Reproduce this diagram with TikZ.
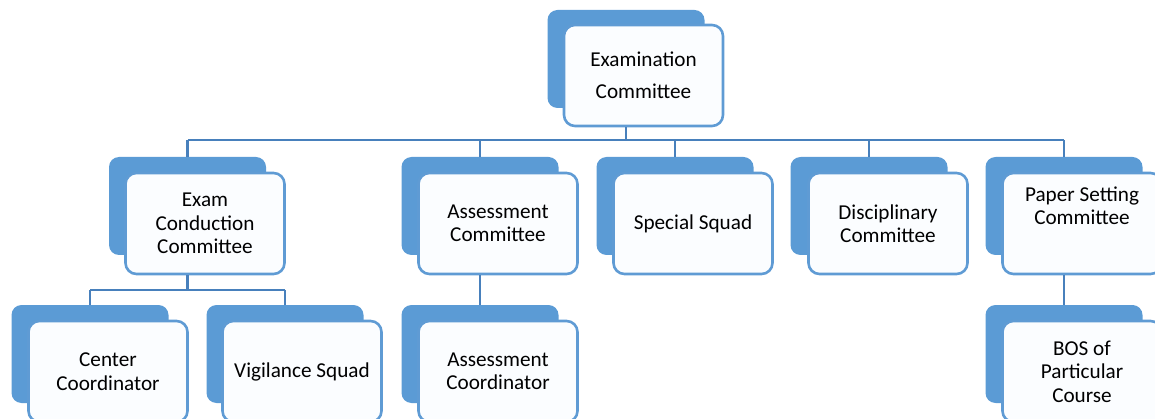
\documentclass[tikz,border=0pt]{standalone}
\usepackage{fontspec}
\setmainfont{Carlito}
\definecolor{shadeblue}{RGB}{91,155,213}
\definecolor{edgeblue}{RGB}{95,155,212}
\definecolor{linkblue}{RGB}{72,128,188}
\definecolor{paleblue}{RGB}{251,253,255}

\begin{document}
\begin{tikzpicture}[x=1pt,y=-1pt,
    backbox/.style={draw=none, fill=shadeblue, rounded corners=10pt,
        minimum width=157pt, minimum height=98pt, inner sep=0pt},
    frontbox/.style={draw=edgeblue, line width=2.6pt, fill=paleblue, rounded corners=11pt,
        minimum width=159pt, minimum height=101pt, inner sep=0pt, align=center,
        font=\fontsize{21.2}{23.5}\selectfont},
    link/.style={draw=linkblue, line width=2.8pt}]

        \useasboundingbox (0,0) rectangle (1155,419);

        % Top box
        \node[backbox] (exam-b) at (626,59) {};
        \node[frontbox, font=\fontsize{21.2}{32}\selectfont] (exam) at (643.5,75.5) {Examination\\Committee};

        % Second row
        \node[backbox] (conduct-b) at (187.5,206) {};
        \node[frontbox] (conduct) at (205,223.5) {Exam\\Conduction\\Committee};
        \node[backbox] (assess-b) at (480,206) {};
        \node[frontbox] (assess) at (498,223.5) {Assessment\\Committee};
        \node[backbox] (special-b) at (675,206) {};
        \node[frontbox] (special) at (693,223.5) {Special Squad};
        \node[backbox] (discip-b) at (869,206) {};
        \node[frontbox] (discip) at (888,223.5) {Disciplinary\\Committee};
        \node[backbox] (paper-b) at (1064,206) {};
        \node[frontbox] (paper) at (1082,223.5) {Paper Setting\\Committee\\[12pt]{}};

        % Third row
        \node[backbox] (center-b) at (90,354) {};
        \node[frontbox] (center) at (108,371.5) {Center\\Coordinator};
        \node[backbox] (vigil-b) at (285,354) {};
        \node[frontbox] (vigil) at (302,371.5) {Vigilance Squad};
        \node[backbox] (coord-b) at (480,354) {};
        \node[frontbox] (coord) at (498,371.5) {Assessment\\Coordinator};
        \node[backbox] (bos-b) at (1064,354) {};
        \node[frontbox] (bos) at (1082,371.5) {BOS of\\Particular\\Course};

        % Connectors from the top box
        \coordinate (bus) at (0,140);
        \draw[link] (exam-b.south |- exam.south) -- (exam-b |- bus);
        \draw[link] (conduct-b |- bus) -- (paper-b |- bus);
        \foreach \n in {conduct,assess,special,discip,paper}
            \draw[link] (\n-b |- bus) -- (\n-b.north);

        % Connectors below the second row
        \coordinate (subbus) at (0,290);
        \draw[link] (conduct-b.south |- conduct.south) -- (conduct-b |- subbus);
        \draw[link] (center-b |- subbus) -- (vigil-b |- subbus);
        \draw[link] (center-b |- subbus) -- (center-b.north);
        \draw[link] (vigil-b |- subbus) -- (vigil-b.north);
        \draw[link] (assess-b.south |- assess.south) -- (coord-b.north);
        \draw[link] (paper-b.south |- paper.south) -- (bos-b.north);

\end{tikzpicture}
\end{document}
